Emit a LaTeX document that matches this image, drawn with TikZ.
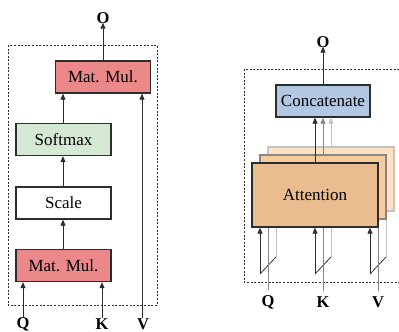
\documentclass[tikz,border=0pt]{standalone}
\usepackage{fontspec}
\setmainfont{Liberation Serif}
\usetikzlibrary{arrows.meta,calc}
\definecolor{mmred}{RGB}{234,136,138}
\definecolor{smgreen}{RGB}{213,232,212}
\definecolor{ccblue}{RGB}{178,199,225}
\definecolor{attA}{RGB}{233,189,143}
\definecolor{attB}{RGB}{249,203,156}
\definecolor{attC}{RGB}{255,226,194}
\definecolor{dk}{RGB}{45,45,45}
\definecolor{md}{RGB}{135,135,135}
\definecolor{lt}{RGB}{195,195,195}
\tikzset{
  opbox/.style={draw=dk,line width=1.3pt,minimum width=95pt,minimum height=32pt,inner sep=0pt,font=\fontsize{17}{20}\selectfont},
  layer/.style={line width=1.3pt,minimum width=126pt,minimum height=64pt,inner sep=0pt,font=\fontsize{17}{20}\selectfont},
  lbl/.style={font=\fontsize{16.5}{19}\selectfont\bfseries,inner sep=1pt},
  arrK/.style={draw=dk,line width=0.8pt,-{Triangle[length=6pt,width=5pt]}},
  lnK/.style={draw=dk,line width=0.8pt},
  arrM/.style={draw=md,line width=0.8pt,-{Triangle[length=6pt,width=5pt]}},
  lnM/.style={draw=md,line width=0.8pt},
  arrL/.style={draw=lt,line width=0.8pt,-{Triangle[length=6pt,width=5pt]}},
  lnL/.style={draw=lt,line width=0.8pt},
  frame/.style={draw=dk,line width=0.6pt,dash pattern=on 2pt off 1.6pt},
}
\begin{document}
\begin{tikzpicture}[x=1pt,y=-1pt]
\useasboundingbox (0,0) rectangle (399,332);
\clip (0,0) rectangle (399,332);
% ---------- left: scaled dot-product attention ----------
\draw[frame] (8,45) rectangle (157,305);
\node[opbox,fill=mmred] (mm2) at (103,77) {Mat. Mul.};
\node[opbox,fill=smgreen] (sm) at (63.5,139.5) {Softmax};
\node[opbox,fill=white] (sc) at (63.5,203) {Scale};
\node[opbox,fill=mmred] (mm1) at (63.5,265.5) {Mat. Mul.};
\node[lbl] (O1) at (103,18) {O};
\node[lbl] (Q1) at (23,324) {Q};
\node[lbl] (K1) at (102,324) {K};
\node[lbl] (V1) at (143,324) {V};
\draw[arrK] (mm2.north) -- ([yshift=2pt]O1.south);
\draw[arrK] (sm.north -| 63,0) -- (mm2.south -| 63,0);
\draw[arrK] (sc.north -| 63,0) -- (sm.south -| 63,0);
\draw[arrK] (mm1.north -| 63,0) -- (sc.south -| 63,0);
\draw[arrK] ([yshift=-1pt]Q1.north) -- (Q1.north |- mm1.south);
\draw[arrK] ([yshift=-1pt]K1.north) -- (K1.north |- mm1.south);
\draw[arrK] ([xshift=-1pt,yshift=-1pt]V1.north) -- ([xshift=-1pt]V1.north |- mm2.south);
% ---------- right: multi-head attention ----------
\draw[frame] (244,69) rectangle (420,282);
\node[lbl] (O2) at (323,42) {O};
\node[lbl] (Q2) at (268,302) {Q};
\node[lbl] (K2) at (323,302) {K};
\node[lbl] (V2) at (378,302) {V};
\node[opbox,fill=ccblue,minimum width=94pt] (cc) at (323,101) {Concatenate};
\draw[arrK] (cc.north) -- ([yshift=2pt]O2.south);
% layer geometry placeholders for line ends
\path (331,179) node[layer,minimum width=126pt] (backp) {};
\path (323,187) node[layer,minimum width=126pt] (midp) {};
\path (315,195) node[layer,minimum width=126pt] (frontp) {};
% input lines (behind the layers)
\foreach \n/\x in {Q2/268,K2/323,V2/378}{
  \coordinate (b\n) at (\x-8,274);
  \coordinate (c\n) at (\x+8,257);
  \draw[lnK] (b\n) -- (c\n);
  \draw[lnL] (c\n) -- (c\n |- backp.south);
  \draw[lnM] ([yshift=4pt]\n.north) -- (\n.north |- midp.south);
}
\node[layer,draw=lt,fill=attC] (back) at (331,179) {};
\node[layer,draw=md,fill=attB] (mid) at (323,187) {};
\node[layer,draw=dk,fill=attA] (front) at (315,195) {Attention};
\foreach \n in {Q2,K2,V2}{
  \draw[arrK] (b\n) -- (b\n |- front.south);
}
\draw[arrL] (back.north) -- (back.north |- cc.south);
\draw[arrM] (mid.north) -- (mid.north |- cc.south);
\draw[arrK] (front.north) -- (front.north |- cc.south);
\end{tikzpicture}
\end{document}
